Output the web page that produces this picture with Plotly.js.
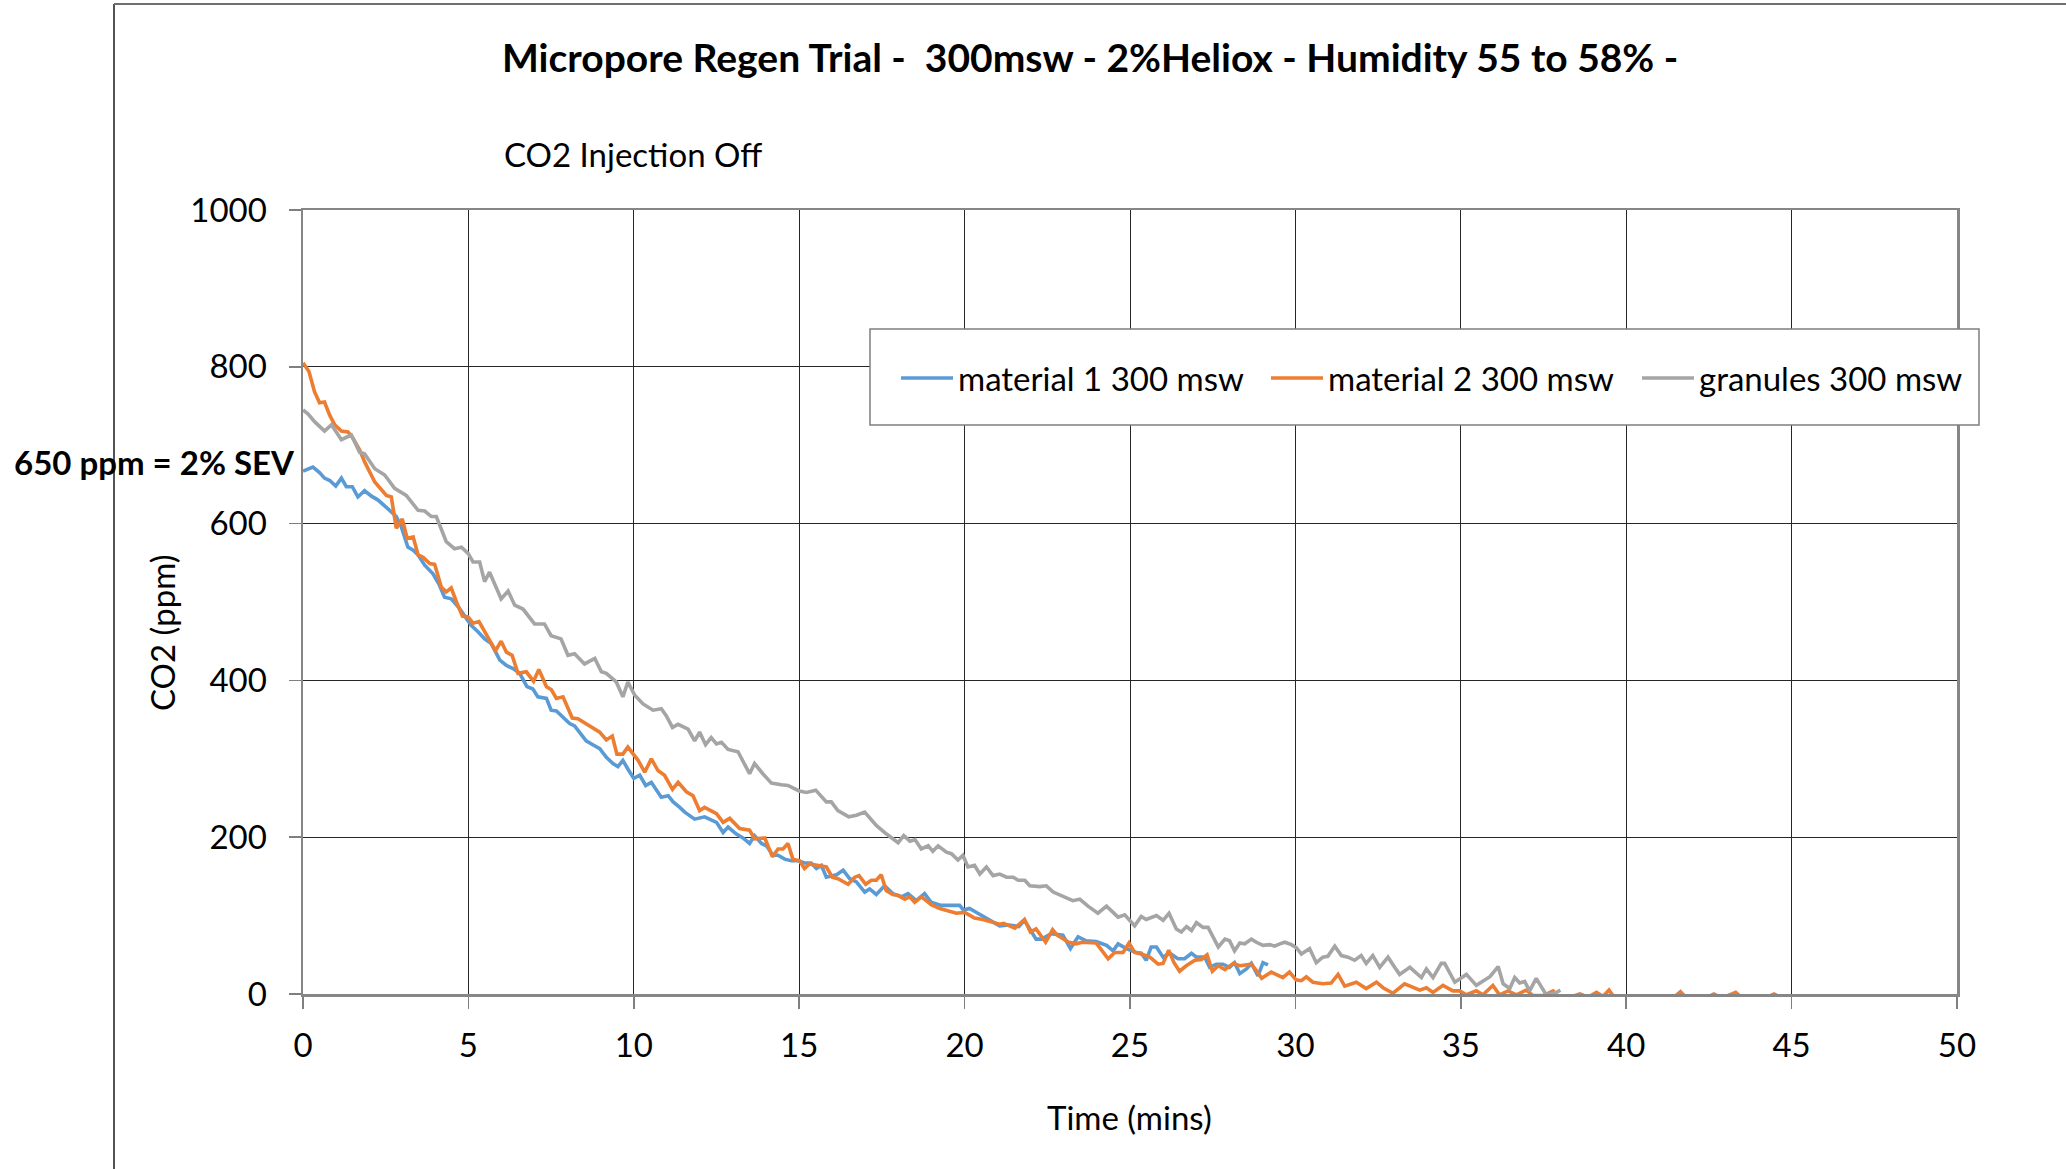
<!DOCTYPE html>
<html>
<head>
<meta charset="utf-8">
<script src="https://cdn.plot.ly/plotly-3.0.1.min.js"></script>
<style>html,body{margin:0;padding:0;background:#fff;}#chart{width:2066px;height:1169px;}</style>
</head>
<body>
<div id="chart"></div>
<script>
// ---- data ----
const seriesNames = ["material 1 300 msw", "material 2 300 msw", "granules 300 msw"];
const xTickVals = [0,5,10,15,20,25,30,35,40,45,50];
const yTickVals = [0,200,400,600,800,1000];

const blueT = [0,0.3,0.5,0.65,0.81,0.99,1.16,1.31,1.49,1.66,1.86,2.07,2.27,2.47,2.67,2.82,2.97,3.17,3.33,3.48,3.68,3.93,4.11,4.28,4.48,4.69,4.89,5.09,5.29,5.49,5.69,5.95,6.15,6.35,6.55,6.77,6.95,7.1,7.36,7.5,7.66,7.86,8.06,8.21,8.41,8.56,8.76,8.97,9.17,9.37,9.52,9.67,9.82,10.0,10.18,10.36,10.53,10.83,11.04,11.19,11.39,11.54,11.84,12.14,12.5,12.7,12.85,13.1,13.3,13.5,13.65,13.86,14.01,14.21,14.36,14.56,14.76,14.96,15.16,15.36,15.52,15.67,15.82,16.13,16.33,16.53,16.73,16.98,17.13,17.33,17.58,17.83,18.09,18.29,18.54,18.79,18.99,19.29,19.6,19.85,19.97,20.15,20.4,20.7,21.06,21.35,21.64,21.81,22.16,22.33,22.62,22.97,23.2,23.43,23.66,23.98,24.29,24.49,24.64,24.89,25.19,25.34,25.49,25.64,25.8,26.0,26.2,26.45,26.65,26.86,27.01,27.26,27.41,27.61,27.81,28.01,28.16,28.32,28.52,28.67,28.87,29.02,29.17];
const blueV = [667,672,665,658,655,648,658,647,647,634,642,635,630,623,615,609,596,570,566,560,547,536,523,506,504,494,481,470,462,453,447,426,419,415,409,392,389,379,377,362,361,353,345,342,332,323,318,313,302,294,290,298,287,275,279,266,270,251,253,245,238,232,223,226,219,206,213,204,199,192,202,192,189,177,177,172,170,170,167,167,160,164,149,152,158,147,143,130,134,127,138,128,124,128,119,128,117,113,113,113,107,109,103,96,87,88,86,94,70,70,77,75,58,73,68,67,62,55,64,58,53,52,43,60,60,47,52,45,45,52,47,47,34,38,38,34,40,26,32,39,23,40,37];

const orangeT = [0,0.18,0.35,0.5,0.65,0.81,0.96,1.16,1.36,1.51,1.71,1.86,2.17,2.52,2.67,2.82,3.0,3.15,3.33,3.48,3.63,3.83,3.98,4.18,4.33,4.48,4.64,4.82,4.99,5.14,5.32,5.49,5.64,5.82,5.99,6.15,6.32,6.5,6.75,6.97,7.13,7.36,7.51,7.66,7.86,8.14,8.31,8.56,8.82,8.97,9.17,9.35,9.49,9.67,9.82,9.97,10.13,10.33,10.53,10.73,10.93,11.17,11.34,11.59,11.79,11.99,12.14,12.5,12.7,12.9,13.2,13.5,13.65,13.96,14.19,14.36,14.51,14.66,14.81,15.01,15.16,15.31,15.56,15.82,16.0,16.17,16.48,16.68,16.81,17.01,17.18,17.33,17.48,17.63,17.83,17.98,18.19,18.34,18.49,18.69,18.84,18.99,19.25,19.5,19.75,20.0,20.3,20.55,20.8,21.06,21.18,21.52,21.81,21.99,22.16,22.45,22.66,22.8,23.15,23.37,23.55,23.78,23.98,24.34,24.54,24.79,24.97,25.14,25.34,25.6,25.85,26.0,26.17,26.33,26.5,26.7,26.96,27.16,27.33,27.49,27.67,27.87,28.12,28.32,28.52,28.67,28.82,28.98,29.27,29.62,29.82,30.02,30.18,30.33,30.53,30.83,31.08,31.29,31.49,31.84,32.14,32.45,32.65,32.95,33.3,33.76,33.96,34.16,34.46,34.76,34.96,35.17,35.47,35.67,35.97,36.17,36.43,36.68,36.98,37.18,37.49,37.79,37.95,38.3,38.6,38.85,39.1,39.3,39.48,39.65,40.2,40.8,41.45,41.64,41.8,42.4,42.65,42.9,43.31,43.5,44.2,44.47,44.7];
const orangeV = [805,794,768,754,755,738,726,718,717,709,694,679,653,636,634,594,606,581,583,560,557,549,548,519,513,518,500,482,481,473,475,462,452,438,450,436,432,409,411,399,414,392,388,377,379,352,351,345,338,334,324,329,306,306,315,306,298,283,300,285,279,261,270,258,253,234,238,230,219,224,211,209,198,199,175,185,185,192,172,170,160,166,164,162,149,147,140,149,151,140,145,145,152,132,127,126,121,124,117,124,119,114,109,106,103,104,97,95,92,89,90,84,95,79,83,66,82,75,66,64,66,65,65,45,53,53,65,53,51,47,38,39,56,40,29,36,43,44,50,29,36,31,39,36,37,38,30,20,28,21,28,18,17,22,15,13,14,25,10,15,7,15,8,1,13,5,8,2,11,4,4,-1,4,-1,11,-1,4,-1,5,-2,-2,4,-4,-4,0,-4,2,-3,5,-5,-6,-6,-4,3,-4,-5,0,-5,2,-5,-5,0,-5];

const grayT = [0,0.15,0.35,0.65,0.86,1.16,1.46,1.71,1.86,2.17,2.47,2.77,3.12,3.48,3.68,3.88,4.03,4.33,4.58,4.79,4.99,5.14,5.34,5.49,5.64,5.99,6.2,6.4,6.65,7.0,7.3,7.5,7.8,8.01,8.21,8.51,8.82,9.02,9.17,9.47,9.67,9.82,10.03,10.28,10.58,10.83,10.98,11.17,11.34,11.64,11.84,11.99,12.17,12.34,12.5,12.65,12.85,13.15,13.5,13.65,13.9,14.16,14.46,14.66,15.0,15.22,15.5,15.82,15.97,16.17,16.5,16.73,16.98,17.33,17.64,17.99,18.16,18.35,18.5,18.69,18.9,19.04,19.2,19.45,19.6,19.8,19.95,20.1,20.3,20.46,20.66,20.86,21.06,21.27,21.47,21.62,21.82,21.97,22.27,22.47,22.68,22.98,23.27,23.48,23.73,24.03,24.29,24.64,24.84,25.14,25.34,25.49,25.8,26.0,26.18,26.4,26.55,26.71,26.86,27.01,27.21,27.36,27.67,27.87,28.01,28.16,28.32,28.47,28.67,28.82,29.02,29.22,29.37,29.53,29.68,29.88,30.03,30.18,30.43,30.63,30.83,30.98,31.19,31.39,31.59,31.79,31.99,32.14,32.34,32.55,32.8,33.0,33.15,33.46,33.81,33.96,34.16,34.41,34.51,34.82,35.17,35.47,35.88,36.13,36.28,36.48,36.63,36.78,36.93,37.08,37.28,37.58,37.89,38.01];
const grayV = [745,740,730,718,726,707,713,691,689,670,662,645,636,617,616,609,609,577,568,570,562,551,551,526,538,504,514,496,491,472,472,457,453,432,434,421,428,411,409,398,379,398,381,370,362,364,355,340,344,338,323,334,318,327,319,321,312,309,281,294,281,269,267,266,259,257,260,245,245,234,226,228,232,215,204,193,202,195,197,185,189,182,189,181,179,171,177,162,164,153,162,151,153,149,149,145,145,138,137,138,130,124,119,121,112,103,112,98,101,87,99,95,100,94,103,83,79,86,81,91,85,85,60,70,68,55,65,64,70,66,62,63,61,64,66,63,59,51,58,40,47,48,61,49,47,43,49,39,49,34,47,34,25,34,21,32,21,39,39,15,25,11,22,35,13,7,21,14,16,4,20,-1,2,5];

const colors = ["#5B9BD5", "#ED7D31", "#A5A5A5"];

// ---- chart ----
const FONT = "Lato, 'Open Sans', sans-serif";
const legendIds = ["legend", "legend2", "legend3"];
const traces = [
  {x: blueT, y: blueV, name: seriesNames[0]},
  {x: orangeT, y: orangeV, name: seriesNames[1]},
  {x: grayT, y: grayV, name: seriesNames[2]}
].map((t, i) => Object.assign(t, {
  type: "scatter", mode: "lines",
  legend: legendIds[i],
  line: {color: colors[i], width: 3.6}
}));

const W = 2066, H = 1169;
const L = 303, R = 109, T = 210, B = 175;
const pw = W - L - R, ph = H - T - B;
const px = v => (v - L) / pw;          // container px -> paper x
const py = v => (H - B - v) / ph;      // container px -> paper y

function legendAt(leftPx) {
  return {
    orientation: "h",
    xref: "paper", yref: "paper",
    x: px(leftPx), xanchor: "left",
    y: py(378), yanchor: "middle",
    bgcolor: "rgba(0,0,0,0)", borderwidth: 0,
    font: {family: FONT, size: 33, color: "#000"},
    itemwidth: 52
  };
}

const layout = {
  width: W, height: H,
  margin: {l: L, r: R, t: T, b: B, pad: 0},
  paper_bgcolor: "#ffffff", plot_bgcolor: "#ffffff",
  font: {family: FONT, size: 33, color: "#000"},
  showlegend: true,
  title: {
    text: "<b>Micropore Regen Trial -  300msw - 2%Heliox - Humidity 55 to 58% -</b>",
    font: {family: FONT, size: 39, color: "#000"},
    xref: "container", yref: "container",
    x: 502 / W, xanchor: "left", y: 1 - 58 / H, yanchor: "middle"
  },
  xaxis: {
    range: [0, 50], tickvals: xTickVals, ticktext: xTickVals.map(String),
    showgrid: true, gridcolor: "#262626", gridwidth: 1,
    zeroline: false,
    showline: true, linecolor: "#868686", linewidth: 2.5, mirror: true,
    ticks: "outside", ticklen: 12, tickwidth: 1.5, tickcolor: "#7f7f7f",
    ticklabelstandoff: 9,
    tickfont: {family: FONT, size: 33, color: "#000"},
    fixedrange: true
  },
  yaxis: {
    range: [0, 1000], tickvals: yTickVals, ticktext: yTickVals.map(String),
    showgrid: true, gridcolor: "#262626", gridwidth: 1,
    zeroline: false,
    showline: true, linecolor: "#868686", linewidth: 2.5, mirror: true,
    ticks: "outside", ticklen: 12, tickwidth: 1.5, tickcolor: "#7f7f7f",
    ticklabelstandoff: 15,
    tickfont: {family: FONT, size: 33, color: "#000"},
    fixedrange: true
  },
  legend: legendAt(896),
  legend2: legendAt(1266),
  legend3: legendAt(1637),
  shapes: [
    // legend box
    {type: "rect", xref: "paper", yref: "paper", layer: "above",
     x0: px(870), x1: px(1979), y0: py(425), y1: py(329),
     fillcolor: "#ffffff", line: {color: "#7f7f7f", width: 1.5}},
    // outer chart border (left and top edges visible)
    {type: "line", xref: "paper", yref: "paper", layer: "above",
     x0: px(114), x1: px(114), y0: py(4), y1: py(1175), line: {color: "#1a1a1a", width: 1.5}},
    {type: "line", xref: "paper", yref: "paper", layer: "above",
     x0: px(114), x1: px(2070), y0: py(4), y1: py(4), line: {color: "#6f6f6f", width: 2}}
  ],
  annotations: [
    {text: "CO2 Injection Off", xref: "paper", yref: "paper",
     x: px(502), xanchor: "left", y: py(154), yanchor: "middle",
     showarrow: false, font: {family: FONT, size: 33, color: "#000"}},
    {text: "<b>650 ppm = 2% SEV</b>", xref: "paper", yref: "paper",
     x: px(297), xanchor: "right", y: py(462), yanchor: "middle",
     showarrow: false, font: {family: FONT, size: 33, color: "#000"}},
    {text: "CO2 (ppm)", xref: "paper", yref: "paper", textangle: -90,
     x: px(162), xanchor: "center", y: py(633), yanchor: "middle",
     showarrow: false, font: {family: FONT, size: 33, color: "#000"}},
    {text: "Time (mins)", xref: "paper", yref: "paper",
     x: px(1129), xanchor: "center", y: py(1117), yanchor: "middle",
     showarrow: false, font: {family: FONT, size: 33, color: "#000"}}
  ]
};

Plotly.newPlot("chart", traces, layout, {displayModeBar: false, staticPlot: true});
</script>
</body>
</html>
